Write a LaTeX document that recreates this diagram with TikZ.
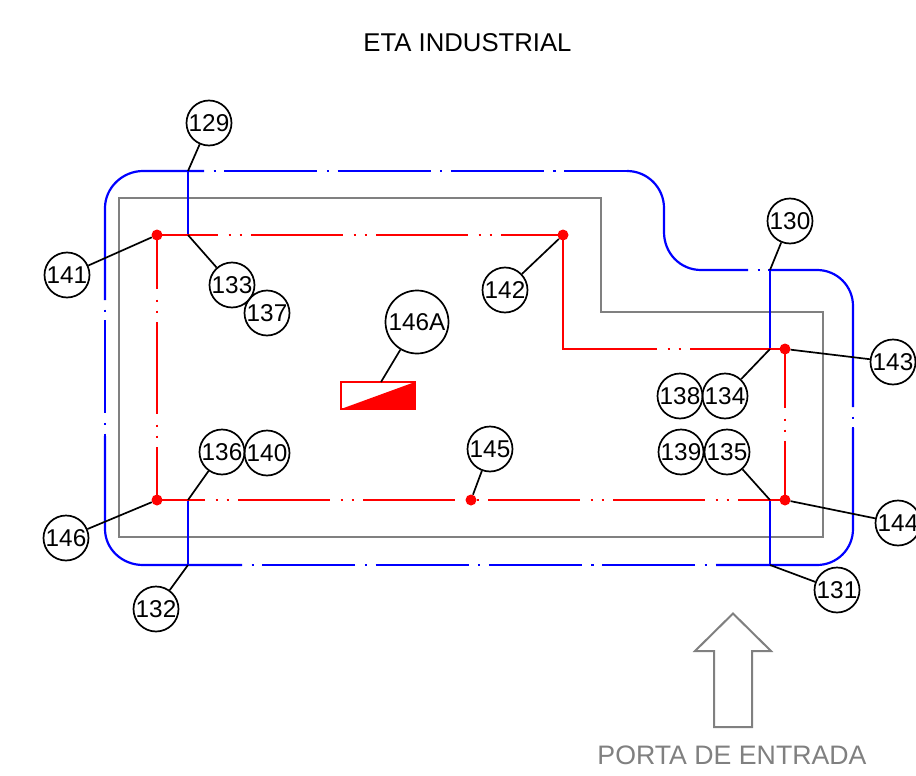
\documentclass[tikz,border=0pt]{standalone}
\usepackage{fontspec}
\setmainfont{Liberation Sans}
\definecolor{wallgray}{HTML}{808080}
\definecolor{pureblue}{HTML}{0000FF}
\definecolor{purered}{HTML}{FF0000}
\tikzset{
  wall/.style={draw=wallgray,line width=2pt},
  blueline/.style={draw=pureblue,line width=2.2pt},
  bluedash/.style={blueline,dash pattern=on 93pt off 9.5pt on 2.2pt off 8.6pt,dash phase=93pt},
  redline/.style={draw=purered,line width=2.2pt},
  reddash/.style={redline,dash pattern=on 92pt off 10.5pt on 2pt off 9pt on 2pt off 9.5pt,dash phase=92pt},
  reddot/.style={circle,fill=purered,inner sep=0pt,minimum size=11pt},
  tag/.style={circle,draw=black,line width=1.7pt,inner sep=-3pt,minimum size=45pt,font=\fontsize{24.3}{25}\selectfont,text=black},
  bigtag/.style={tag,minimum size=63pt},
  leader/.style={draw=black,line width=1.7pt},
  caption/.style={inner sep=0pt,font=\fontsize{25.7}{26}\selectfont}
}
\begin{document}
\begin{tikzpicture}[x=1pt,y=-1pt]
\clip (0,0) rectangle (916,776);
\fill[white] (0,0) rectangle (916,776);
% building outline
\draw[wall] (119,197.5) -- (601,197.5) -- (601,311.5) -- (823,311.5) -- (823,537) -- (119,537) -- cycle;
% blue ring
\draw[blueline] (105,300) -- (105,208) .. controls (105,187.6) and (122.6,171) .. (143,171) -- (204,171);
\draw[bluedash] (204,171) -- (627,171);
\draw[blueline] (627,171) .. controls (647.4,171) and (664,187.6) .. (664,208) -- (664,232) .. controls (664,253) and (680,270) .. (701,270) -- (748,270);
\draw[bluedash] (748,270) -- (770,270);
\draw[blueline] (770,270) -- (817,270) .. controls (837,270) and (853,286) .. (853,306) -- (853,407);
\draw[bluedash] (853,407) -- (853,428);
\draw[blueline] (853,428) -- (853,529) .. controls (853,549) and (837,565) .. (817,565) -- (716,565);
\draw[bluedash] (242,565) -- (716,565);
\draw[blueline] (242,565) -- (143,565) .. controls (122,565) and (105,549) .. (105,529) -- (105,436);
\draw[bluedash] (105,300) -- (105,436);
% blue branches
\draw[blueline] (188,171) -- (188,235);
\draw[blueline] (770,270) -- (770,349);
\draw[blueline] (770,500) -- (770,565);
\draw[blueline] (188,500) -- (188,565);
% red ring
\draw[redline] (157,289) -- (157,235) -- (218,235);
\draw[reddash] (218,235) -- (563,235);
\draw[redline] (563,235) -- (563,349) -- (657,349);
\draw[reddash] (657,349) -- (690,349);
\draw[redline] (690,349) -- (785,349) -- (785,408);
\draw[reddash] (785,408) -- (785,442);
\draw[redline] (785,442) -- (785,500) -- (738,500);
\draw[reddash] (205,500) -- (738,500);
\draw[redline] (205,500) -- (157,500) -- (157,447);
\draw[reddash] (157,289) -- (157,447);
% red points
\node[reddot] (d141) at (157,235) {};
\node[reddot] (d142) at (563,235) {};
\node[reddot] (d143) at (785,349) {};
\node[reddot] (d144) at (785,500) {};
\node[reddot] (d145) at (471,500) {};
\node[reddot] (d146) at (157,500) {};
% panel
\fill[white] (341,382) rectangle (415,409);
\fill[purered] (341,409) -- (415,382) -- (415,409) -- cycle;
\draw[redline] (341,382) rectangle (415,409);
% free ends of the leaders
\coordinate (p129) at (188,171);
\coordinate (p133) at (188,235);
\coordinate (p136) at (188,500);
\coordinate (p132) at (188,565);
\coordinate (p130) at (770,270);
\coordinate (p134) at (770,349);
\coordinate (p135) at (770,500);
\coordinate (p131) at (770,565);
\coordinate (pA) at (381,382);
% tags
\node[tag] (n129) at (209,123) {129};
\node[tag] (n130) at (790,221) {130};
\node[tag] (n131) at (837,590) {131};
\node[tag] (n132) at (156,609) {132};
\node[tag] (n133) at (232,285) {133};
\node[tag] (n134) at (725,396) {134};
\node[tag] (n135) at (727,452) {135};
\node[tag] (n136) at (222,452) {136};
\node[tag] (n137) at (267,313) {137};
\node[tag] (n138) at (680,396) {138};
\node[tag] (n139) at (681,452) {139};
\node[tag] (n140) at (267,453) {140};
\node[tag] (n141) at (67,275) {141};
\node[tag] (n142) at (505,290) {142};
\node[tag] (n143) at (893,362) {143};
\node[tag] (n144) at (898,523) {144};
\node[tag] (n145) at (490,449) {145};
\node[tag] (n146) at (66,538) {146};
\node[bigtag] (nA) at (417,322) {146A};
% leaders
\draw[leader] (n129) -- (p129);
\draw[leader] (n130) -- (p130);
\draw[leader] (n131) -- (p131);
\draw[leader] (n132) -- (p132);
\draw[leader] (n133) -- (p133);
\draw[leader] (n134) -- (p134);
\draw[leader] (n135) -- (p135);
\draw[leader] (n136) -- (p136);
\draw[leader] (n141) -- (d141);
\draw[leader] (n142) -- (d142);
\draw[leader] (n143) -- (d143);
\draw[leader] (n144) -- (d144);
\draw[leader] (n145) -- (d145);
\draw[leader] (n146) -- (d146);
\draw[leader] (nA) -- (pA);
% entrance
\draw[wall,line join=miter] (733,613.5) -- (771,651) -- (752,651) -- (752,727) -- (714,727) -- (714,651) -- (695,651) -- cycle;
\node[caption] (title) at (467.5,43) {ETA INDUSTRIAL};
\node[caption,text=wallgray,font=\fontsize{26.7}{28}\selectfont] (door) at (732,755.5) {PORTA DE ENTRADA};
\end{tikzpicture}
\end{document}
